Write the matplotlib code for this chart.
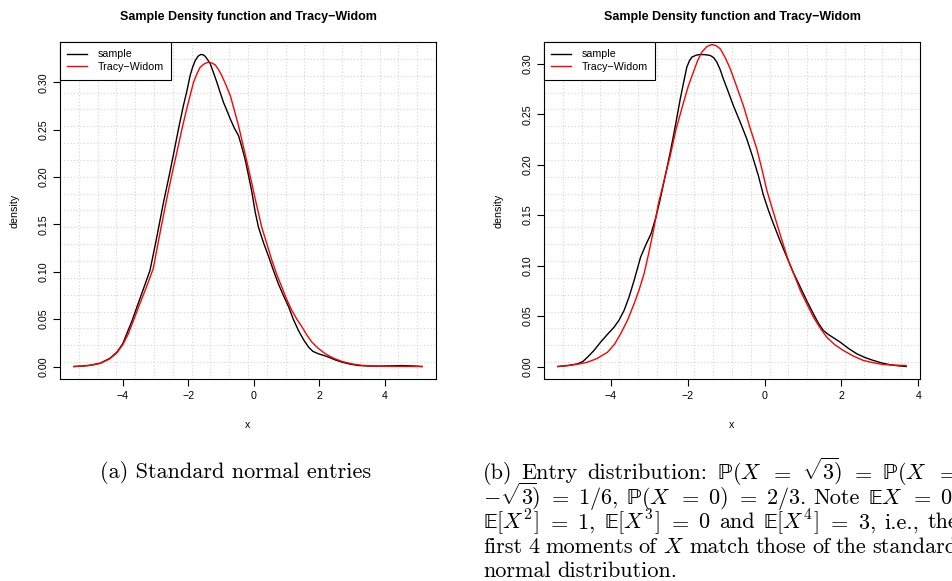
import matplotlib
matplotlib.use('Agg')
import matplotlib.pyplot as plt
import numpy as np

# curves: (a) standard normal entries
a_sample_x = [-5.49, -5.20, -5.00, -4.69, -4.40, -4.18, -4.00, -3.88, -3.72, -3.57, -3.37, -3.17,
              -3.00, -2.86, -2.76, -2.60, -2.45, -2.30, -2.15, -2.05, -1.945, -1.87, -1.79, -1.70,
              -1.62, -1.55, -1.49, -1.41, -1.33, -1.23, -1.13, -1.03, -0.93, -0.82, -0.72, -0.60,
              -0.47, -0.37, -0.27, -0.16, -0.06, 0.04, 0.14, 0.30, 0.45, 0.60, 0.75, 0.90, 1.06,
              1.20, 1.36, 1.52, 1.67, 1.80, 1.97, 2.12, 2.28, 2.48, 2.69, 2.95, 3.19, 3.50, 3.80,
              4.20, 4.52, 4.85, 5.13]
a_sample_y = [0.000, 0.0006, 0.0013, 0.0035, 0.0085, 0.0151, 0.024, 0.0345, 0.048, 0.0627, 0.082,
              0.1015, 0.130, 0.155, 0.173, 0.199, 0.2245, 0.251, 0.2756, 0.290, 0.3073, 0.316,
              0.3231, 0.3278, 0.3295, 0.3292, 0.3277, 0.324, 0.3196, 0.310, 0.3002, 0.2895, 0.2791,
              0.270, 0.2614, 0.252, 0.2438, 0.232, 0.2191, 0.201, 0.1839, 0.163, 0.147, 0.130,
              0.116, 0.101, 0.087, 0.075, 0.063, 0.050, 0.038, 0.028, 0.0204, 0.016, 0.0134,
              0.0118, 0.0099, 0.007, 0.0046, 0.0024, 0.0011, 0.0005, 0.0004, 0.0007, 0.0010,
              0.0006, 0.000]
a_tw_x = [-5.49, -5.20, -5.00, -4.69, -4.40, -4.18, -4.00, -3.83, -3.68, -3.52, -3.30, -3.07,
          -2.87, -2.66, -2.50, -2.35, -2.20, -2.05, -1.94, -1.84, -1.74, -1.64, -1.52, -1.39,
          -1.28, -1.18, -1.08, -0.98, -0.85, -0.72, -0.60, -0.47, -0.34, -0.21, -0.08, 0.04,
          0.24, 0.40, 0.55, 0.70, 0.85, 1.00, 1.16, 1.31, 1.47, 1.62, 1.77, 1.97, 2.18, 2.43,
          2.69, 3.00, 3.30, 3.65, 4.00, 4.50, 5.13]
a_tw_y = [0.000, 0.0005, 0.0012, 0.0033, 0.0080, 0.0145, 0.023, 0.0345, 0.048, 0.0627, 0.082,
          0.1035, 0.140, 0.1769, 0.203, 0.2262, 0.250, 0.272, 0.287, 0.3002, 0.309, 0.316,
          0.3195, 0.3214, 0.3205, 0.3185, 0.3135, 0.3073, 0.297, 0.2861, 0.271, 0.2544, 0.235,
          0.2156, 0.196, 0.1769, 0.147, 0.129, 0.112, 0.097, 0.084, 0.071, 0.059, 0.050, 0.0416,
          0.033, 0.0257, 0.019, 0.0134, 0.0088, 0.0053, 0.0027, 0.0012, 0.0005, 0.0002, 0.0001,
          0.000]

# (b) entries +-sqrt(3) w.p. 1/6 each, 0 w.p. 2/3
b_sample_x = [-5.37, -5.10, -4.86, -4.72, -4.60, -4.43, -4.26, -4.08, -3.91, -3.78, -3.65, -3.52,
              -3.39, -3.22, -3.08, -2.95, -2.83, -2.71, -2.58, -2.45, -2.32, -2.19, -2.10, -2.02,
              -1.95, -1.89, -1.78, -1.67, -1.54, -1.41, -1.32, -1.24, -1.15, -1.07, -0.94, -0.81,
              -0.63, -0.46, -0.31, -0.16, -0.03, 0.10, 0.23, 0.40, 0.58, 0.75, 0.93, 1.10, 1.27,
              1.40, 1.53, 1.65, 1.75, 1.97, 2.18, 2.40, 2.62, 2.83, 3.05, 3.27, 3.50, 3.68]
b_sample_y = [0.000, 0.0010, 0.0026, 0.005, 0.0093, 0.016, 0.0242, 0.032, 0.039, 0.046, 0.0556,
              0.069, 0.0853, 0.1085, 0.121, 0.1316, 0.147, 0.166, 0.189, 0.2123, 0.238, 0.2652,
              0.282, 0.2966, 0.303, 0.3065, 0.3085, 0.3092, 0.3090, 0.3082, 0.306, 0.3016, 0.294,
              0.285, 0.272, 0.2586, 0.242, 0.2255, 0.208, 0.1892, 0.170, 0.155, 0.1416, 0.125,
              0.1085, 0.093, 0.0787, 0.065, 0.0523, 0.043, 0.0357, 0.032, 0.0295, 0.0241, 0.018,
              0.0126, 0.0088, 0.006, 0.0035, 0.0017, 0.0006, 0.000]
b_tw_x = [-5.37, -5.15, -5.00, -4.80, -4.60, -4.35, -4.08, -3.90, -3.74, -3.56, -3.39, -3.26,
          -3.13, -3.00, -2.87, -2.76, -2.61, -2.45, -2.30, -2.11, -1.98, -1.85, -1.74, -1.63,
          -1.50, -1.37, -1.26, -1.15, -1.02, -0.89, -0.72, -0.55, -0.38, -0.20, -0.07, 0.06,
          0.19, 0.32, 0.47, 0.62, 0.78, 0.93, 1.10, 1.27, 1.45, 1.62, 1.83, 2.05, 2.30, 2.57,
          2.83, 3.09, 3.40, 3.68]
b_tw_y = [0.000, 0.0008, 0.0015, 0.0027, 0.0043, 0.0080, 0.0142, 0.022, 0.0324, 0.046, 0.0622,
          0.076, 0.092, 0.114, 0.138, 0.161, 0.1845, 0.209, 0.235, 0.261, 0.278, 0.2917, 0.303,
          0.3115, 0.317, 0.3191, 0.3180, 0.3148, 0.306, 0.295, 0.277, 0.2586, 0.237, 0.2156,
          0.196, 0.1746, 0.158, 0.1416, 0.123, 0.105, 0.090, 0.0754, 0.062, 0.049, 0.038, 0.029,
          0.0215, 0.0159, 0.0105, 0.006, 0.0037, 0.002, 0.0013, 0.001]

x_ticks = [-4, -2, 0, 2, 4]
y_ticks = [0.00, 0.05, 0.10, 0.15, 0.20, 0.25, 0.30]
title = 'Sample Density function and Tracy\u2212Widom'
caption_a = '(a) Standard normal entries'
P = r'\mathrm{\mathbb{P}}'
E = r'\mathrm{\mathbb{E}}'
caption_b = [
    ['(b)', 'Entry', 'distribution:', f'${P}(X$', '$=$', r'$\sqrt{3}\!)$', '$=$',
     f'${P}(X$', '$=$'],
    [r'$-\sqrt{3}\!)$', '$=$', '$1/6$,', f'${P}(X$', '$=$', '$0)$', '$=$', '$2/3$.',
     'Note', f'${E}X$', '$=$', '$0$,'],
    [f'${E}[X^2]$', '$=$', '$1$,', f'${E}[X^3]$', '$=$', '$0$', 'and',
     f'${E}[X^4]$', '$=$', '$3$,', 'i.e.,', 'the'],
    ['first', '4', 'moments', 'of', '$X$', 'match', 'those', 'of', 'the', 'standard'],
    ['normal', 'distribution.'],
]

plt.rcParams['font.family'] = 'Liberation Sans'
plt.rcParams['mathtext.fontset'] = 'cm'

W, H = 952, 581
fig = plt.figure(figsize=(W / 100, H / 100), dpi=100)
fs = 7.7


def px_rect(x0, y0, x1, y1):
    return [x0 / W, 1 - y1 / H, (x1 - x0) / W, (y1 - y0) / H]


def r_lim(v):
    # R pads the data range by 4% on each side
    lo, hi = min(v), max(v)
    pad = 0.04 * (hi - lo)
    return lo - pad, hi + pad


def panel(rect, sx, sy, tx, ty):
    ax = fig.add_axes(rect)
    xlim, ylim = r_lim(sx), r_lim(sy)
    for v in np.linspace(xlim[0], xlim[1], 21)[1:-1]:
        ax.axvline(v, color='#d3d3d3', ls=(0, (1, 2)), lw=0.8, zorder=0)
    for v in np.linspace(ylim[0], ylim[1], 21)[1:-1]:
        ax.axhline(v, color='#d3d3d3', ls=(0, (1, 2)), lw=0.8, zorder=0)
    ax.plot(sx, sy, color='black', lw=1.0, label='sample')
    ax.plot(tx, ty, color='red', lw=1.0, label='Tracy\u2212Widom')
    ax.set_xlim(xlim)
    ax.set_ylim(ylim)
    ax.set_xticks(x_ticks)
    ax.set_xticklabels([f'{t}'.replace('-', '\u2212') for t in x_ticks])
    ax.set_yticks(y_ticks)
    ax.set_yticklabels([f'{t:.2f}' for t in y_ticks], rotation=90, va='center')
    ax.tick_params(direction='out', length=5, width=0.8, labelsize=fs, pad=3.5)
    for s in ax.spines.values():
        s.set_linewidth(0.8)
    ax.set_title(title, fontsize=9, fontweight='bold', pad=15.7)
    ax.set_xlabel('x', fontsize=fs)
    ax.set_ylabel('density', fontsize=fs)
    ax.xaxis.set_label_coords(0.5, -46 / 337)
    ax.xaxis.label.set_va('center')
    ax.yaxis.set_label_coords(-45 / 376, 0.5)
    ax.yaxis.label.set_va('center')
    leg = ax.legend(loc='upper left', fontsize=fs, borderaxespad=0, borderpad=0.7,
                    handlelength=1.87, handletextpad=0.93, labelspacing=0.25,
                    fancybox=False, framealpha=1, edgecolor='black')
    leg.get_frame().set_linewidth(0.8)
    return ax


panel(px_rect(60, 42, 436, 379), a_sample_x, a_sample_y, a_tw_x, a_tw_y)
panel(px_rect(544, 42, 920, 379), b_sample_x, b_sample_y, b_tw_x, b_tw_y)

cap_size = 16
fig.text(235.5 / W, 1 - 478.5 / H, caption_a, family='cmr10', fontsize=cap_size,
         ha='center', va='baseline')

# justified caption (b), right edge runs past the figure like the reference
renderer = fig.canvas.get_renderer()
left, right = 483, 958
baselines = [479, 503.6, 528.2, 552.8, 577.4]
for i, words in enumerate(caption_b):
    texts = [fig.text(0, 1 - baselines[i] / H, w, family='cmr10', fontsize=cap_size,
                      va='baseline') for w in words]
    widths = [t.get_window_extent(renderer).width for t in texts]
    if i < len(caption_b) - 1:
        gap = (right - left - sum(widths)) / (len(words) - 1)
    else:
        gap = 7
    x = left
    for t, w in zip(texts, widths):
        t.set_x(x / W)
        x += w + gap

fig.savefig('out.png', dpi=100)
